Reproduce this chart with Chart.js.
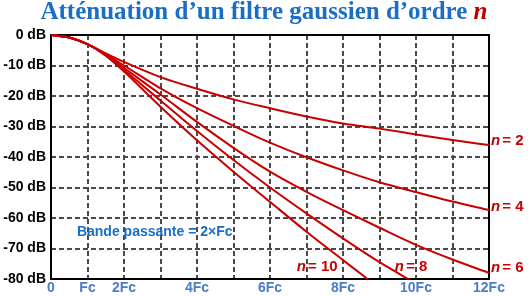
<!DOCTYPE html>
<html>
<head>
<meta charset="utf-8">
<script src="https://cdn.jsdelivr.net/npm/chart.js@4"></script>
<style>
  body { margin: 0; background: #fff; }
  #wrap { position: relative; width: 528px; height: 297px; }
  #title {
    position: absolute; left: 0; top: -3px; width: 528px; text-align: center;
    font: bold 25px 'Liberation Serif', 'Times New Roman', serif; color: #1a6ec6;
  }
  #title i { color: #c00000; }
</style>
</head>
<body>
<div id="wrap">
  <canvas id="gaussCanvas" width="528" height="297"></canvas>
  <div id="title">Atténuation d’un filtre gaussien d’ordre <i>n</i></div>
</div>
<script>
(function () {
  'use strict';

  // frequency in multiples of Fc
  const freqs = [0, 0.5, 1, 1.5, 2, 3, 4, 5, 6, 7, 8, 9, 10, 11, 12];
  // attenuation in dB
  const order2  = [0, -0.8, -3, -6.0, -8.8, -13.8, -17.6, -21.1, -24.0, -26.7, -29.0, -30.7, -32.6, -34.4, -36.1];
  const order4  = [0, -0.8, -3, -6.3, -10.0, -17.5, -24.0, -29.8, -35.3, -40.1, -44.4, -48.3, -51.5, -54.6, -57.4];
  const order6  = [0, -0.8, -3, -6.5, -10.8, -19.5, -28.5, -37.0, -44.8, -51.4, -57.4, -63.2, -68.8, -73.6, -78.0];
  const order8  = [0, -0.8, -3, -6.7, -11.5, -21.5, -31.5, -41.0, -50.0, -58.5, -66.7, -74.5, -81.5];
  const order10 = [0, -0.8, -3, -6.8, -12.0, -23.5, -34.5, -44.8, -54.7, -64.5, -73.8, -83.0];

  const xTickLabels = ['0', 'Fc', '2Fc', '', '4Fc', '', '6Fc', '', '8Fc', '', '10Fc', '', '12Fc'];
  const yTicks = [0, -10, -20, -30, -40, -50, -60, -70, -80];

  const RED = '#c80000';
  const SANS = "'Liberation Sans', Arial, sans-serif";

  function pts(values) {
    return values.map((v, i) => ({ x: freqs[i], y: v }));
  }

  function curve(label, values) {
    return {
      label: label,
      data: pts(values),
      borderColor: RED,
      borderWidth: 2,
      pointRadius: 0,
      fill: false,
      cubicInterpolationMode: 'monotone',
      clip: { left: 0, top: 3, right: 3, bottom: 0 }
    };
  }

  // frame round the plot + hand-placed labels
  const framePlugin = {
    id: 'frame',
    beforeDatasetsDraw(chart) {
      const a = chart.chartArea, ctx = chart.ctx;
      ctx.save();
      ctx.strokeStyle = '#000';
      ctx.lineWidth = 2;
      ctx.strokeRect(a.left, a.top, a.right - a.left, a.bottom - a.top);
      ctx.restore();
    },
    afterDatasetsDraw(chart) {
      const ctx = chart.ctx, xs = chart.scales.x, ys = chart.scales.y;
      ctx.save();
      ctx.textBaseline = 'middle';
      ctx.textAlign = 'left';

      // order labels
      const labels = [
        { t: ' = 2',  x: 12,   y: -34.8, dx: 2 },
        { t: ' = 4',  x: 12,   y: -56.4, dx: 2 },
        { t: ' = 6',  x: 12,   y: -76.4, dx: 2 },
        { t: ' = 8',  x: 9.42, y: -76.1, dx: 0 },
        { t: ' = 10', x: 6.73, y: -76.1, dx: 0 }
      ];
      labels.forEach(l => {
        let px = xs.getPixelForValue(l.x) + l.dx;
        const py = ys.getPixelForValue(l.y);
        ctx.fillStyle = RED;
        ctx.font = 'italic bold 15px ' + SANS;
        ctx.fillText('n', px, py);
        px += ctx.measureText('n').width - 2;
        ctx.font = 'bold 15px ' + SANS;
        ctx.fillText(l.t, px, py);
      });

      ctx.fillStyle = '#1a6ec6';
      ctx.font = 'bold 14px ' + SANS;
      ctx.fillText('Bande passante = 2\u00d7Fc', xs.getPixelForValue(0.71), ys.getPixelForValue(-64.75));
      ctx.restore();
    }
  };

  new Chart(document.getElementById('gaussCanvas'), {
    type: 'line',
    data: {
      datasets: [
        curve('n = 2', order2),
        curve('n = 4', order4),
        curve('n = 6', order6),
        curve('n = 8', order8),
        curve('n = 10', order10)
      ]
    },
    options: {
      responsive: false,
      animation: false,
      layout: { padding: { left: 0, top: 35, right: 39, bottom: 0 } },
      plugins: {
        legend: { display: false },
        tooltip: { enabled: false }
      },
      scales: {
        x: {
          type: 'linear',
          min: 0,
          max: 12,
          afterFit: s => { s.height = 18; },
          afterBuildTicks: s => { s.ticks = xTickLabels.map((_, i) => ({ value: i })); },
          grid: { color: '#4a4a4a', lineWidth: 2, drawTicks: false },
          border: { display: false, dash: [5, 3] },
          ticks: {
            autoSkip: false,
            maxRotation: 0,
            padding: 1,
            color: '#4a7cc9',
            font: { family: SANS, size: 14, weight: 'bold' },
            callback: v => xTickLabels[v]
          }
        },
        y: {
          min: -80,
          max: 0,
          afterFit: s => { s.width = 51; },
          afterBuildTicks: s => { s.ticks = yTicks.map(v => ({ value: v })); },
          grid: { color: '#4a4a4a', lineWidth: 2, drawTicks: false },
          border: { display: false, dash: [5, 3] },
          ticks: {
            padding: 5,
            color: '#000',
            font: { family: SANS, size: 14, weight: 'bold' },
            callback: v => v + ' dB'
          }
        }
      }
    },
    plugins: [framePlugin]
  });
})();
</script>
</body>
</html>
